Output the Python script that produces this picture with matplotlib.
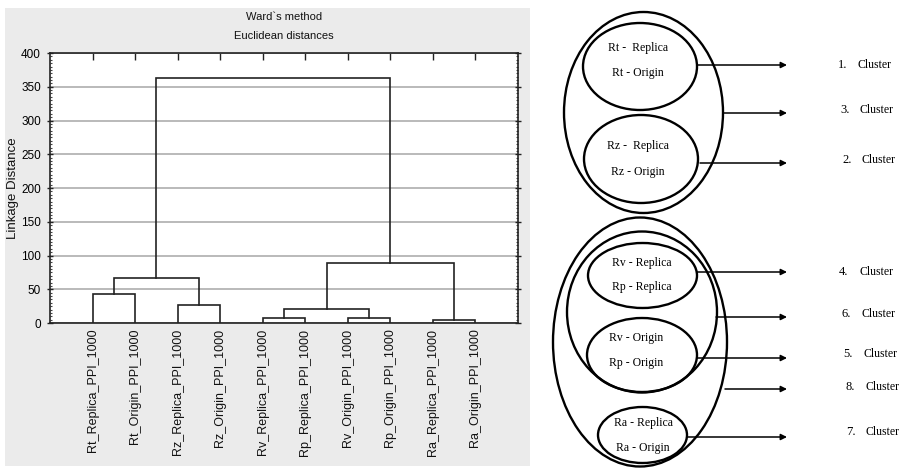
import numpy as np
from matplotlib import pyplot as plt
from matplotlib import patches as patches
from matplotlib.ticker import MultipleLocator

leaves = ["Rt_Replica_PPI_1000", "Rt_Origin_PPI_1000", "Rz_Replica_PPI_1000",
          "Rz_Origin_PPI_1000", "Rv_Replica_PPI_1000", "Rp_Replica_PPI_1000",
          "Rv_Origin_PPI_1000", "Rp_Origin_PPI_1000", "Ra_Replica_PPI_1000",
          "Ra_Origin_PPI_1000"]

# merge steps: node ids 0..9 are leaves, each merge creates id 10, 11, ...
merge_left = [0, 2, 10, 4, 6, 13, 8, 15, 12]
merge_right = [1, 3, 11, 5, 7, 14, 9, 16, 17]
merge_height = [43, 26, 66.5, 7.5, 7, 20.5, 4.5, 89, 363]

y_ticks = [0, 50, 100, 150, 200, 250, 300, 350, 400]

# cluster diagram on the right
pair_top = ["Rt -  Replica", "Rz -  Replica", "Rv - Replica", "Rv - Origin", "Ra - Replica"]
pair_bottom = ["Rt - Origin", "Rz - Origin", "Rp - Replica", "Rp - Origin", "Ra - Origin"]
cluster_numbers = [1, 3, 2, 4, 6, 5, 8, 7]

W, H = 901, 469
fig = plt.figure(figsize=(W / 100, H / 100), dpi=100)
fig.patch.set_facecolor("white")

SANS = ["Liberation Sans", "DejaVu Sans"]
SERIF = ["Liberation Serif", "DejaVu Serif"]

# gray panel behind the dendrogram
bg = fig.add_axes([5 / W, 1 - 466 / H, 525 / W, 458 / H], zorder=-1)
bg.set_facecolor("#ebebeb")
bg.set_xticks([])
bg.set_yticks([])
for s in bg.spines.values():
    s.set_visible(False)

ax = fig.add_axes([50 / W, 1 - 323 / H, 468 / W, 270 / H], zorder=1)
ax.set_facecolor("white")

# leaf x positions 1..n, merged nodes sit at the middle of their children
xpos = {i: i + 1.0 for i in range(len(leaves))}
ypos = {i: 0.0 for i in range(len(leaves))}
for k, (a, b, h) in enumerate(zip(merge_left, merge_right, merge_height)):
    node = len(leaves) + k
    ax.plot([xpos[a], xpos[a], xpos[b], xpos[b]], [ypos[a], h, h, ypos[b]],
            color="#222222", lw=1.2, solid_joinstyle="miter", zorder=3)
    xpos[node] = (xpos[a] + xpos[b]) / 2
    ypos[node] = h

ax.set_xlim(0, len(leaves) + 1)
ax.set_ylim(0, 400)
ax.set_yticks(y_ticks)
ax.yaxis.set_minor_locator(MultipleLocator(5))
ax.grid(axis="y", color="#b4b4b4", lw=1.3, zorder=1)
ax.set_axisbelow(True)
for s in ax.spines.values():
    s.set_color("#222222")
    s.set_linewidth(1.2)

ax.set_xticks(range(1, len(leaves) + 1))
ax.set_xticklabels(leaves, rotation=90, fontsize=9, family=SANS, color="#111111")
ax.tick_params(axis="x", which="major", bottom=False, top=True, direction="in",
               length=5, width=1, color="#222222", pad=4)
ax.tick_params(axis="y", which="major", left=True, right=True, direction="inout",
               length=5, width=1, pad=4, labelsize=8.5, color="#222222")
ax.tick_params(axis="y", which="minor", left=True, right=True, direction="in",
               length=1.5, width=0.8, color="#444444")
for lab in ax.get_yticklabels():
    lab.set_family(SANS)

fig.text(284 / W, 1 - 17 / H, "Ward`s method", ha="center", va="center",
         fontsize=8, family=SANS, color="#111111")
fig.text(284 / W, 1 - 36 / H, "Euclidean distances", ha="center", va="center",
         fontsize=8, family=SANS, color="#111111")
fig.text(13 / W, 1 - 188 / H, "Linkage Distance", rotation=90, ha="center",
         va="center", fontsize=9.5, family=SANS, color="#111111")

# right-hand nested cluster diagram, drawn in pixel coordinates
ad = fig.add_axes([0, 0, 1, 1], facecolor="none", zorder=2)
ad.set_xlim(0, W)
ad.set_ylim(H, 0)
ad.axis("off")

ellipses = [
    (643.5, 112.5, 159, 201),  # cluster 3
    (640, 66.5, 114, 87),      # cluster 1
    (641, 159, 114, 88),       # cluster 2
    (640, 342, 174, 249),      # cluster 8
    (642, 312, 150, 161),      # cluster 6
    (642.5, 275.5, 109, 65),   # cluster 4
    (642, 355, 110, 74),       # cluster 5
    (642.5, 435, 89, 56),      # cluster 7
]
for cx, cy, w, h in ellipses:
    ad.add_patch(patches.Ellipse((cx, cy), w, h, fill=False, edgecolor="black", lw=1.7))

text_rows = [(48, 73), (146, 172), (263, 287), (338, 363), (423, 448)]
text_x = [638, 638, 642, 636, 643]
for (y1, y2), x, t1, t2 in zip(text_rows, text_x, pair_top, pair_bottom):
    ad.text(x, y1, t1, ha="center", va="center", fontsize=8.5, family=SERIF)
    ad.text(x, y2, t2, ha="center", va="center", fontsize=8.5, family=SERIF)

arrow_start = [697, 723, 700, 697, 716, 697, 725, 688]
arrow_y = [65, 113, 163, 272, 317, 358, 389, 437]
label_y = [65, 110, 160, 272, 314, 354, 387, 432]
label_x = [838, 840, 842, 839, 841, 843, 845, 846]
for x0, ya, yl, xl, n in zip(arrow_start, arrow_y, label_y, label_x, cluster_numbers):
    ad.annotate("", xy=(787, ya), xytext=(x0, ya),
                arrowprops=dict(arrowstyle="-|>", color="black", lw=1.1,
                                mutation_scale=9, shrinkA=0, shrinkB=0))
    ad.text(xl, yl, f"{n}.", ha="left", va="center", fontsize=9, family=SERIF)
    ad.text(xl + 20, yl, "Cluster", ha="left", va="center", fontsize=8.5, family=SERIF)

fig.savefig("out.png", dpi=100)
